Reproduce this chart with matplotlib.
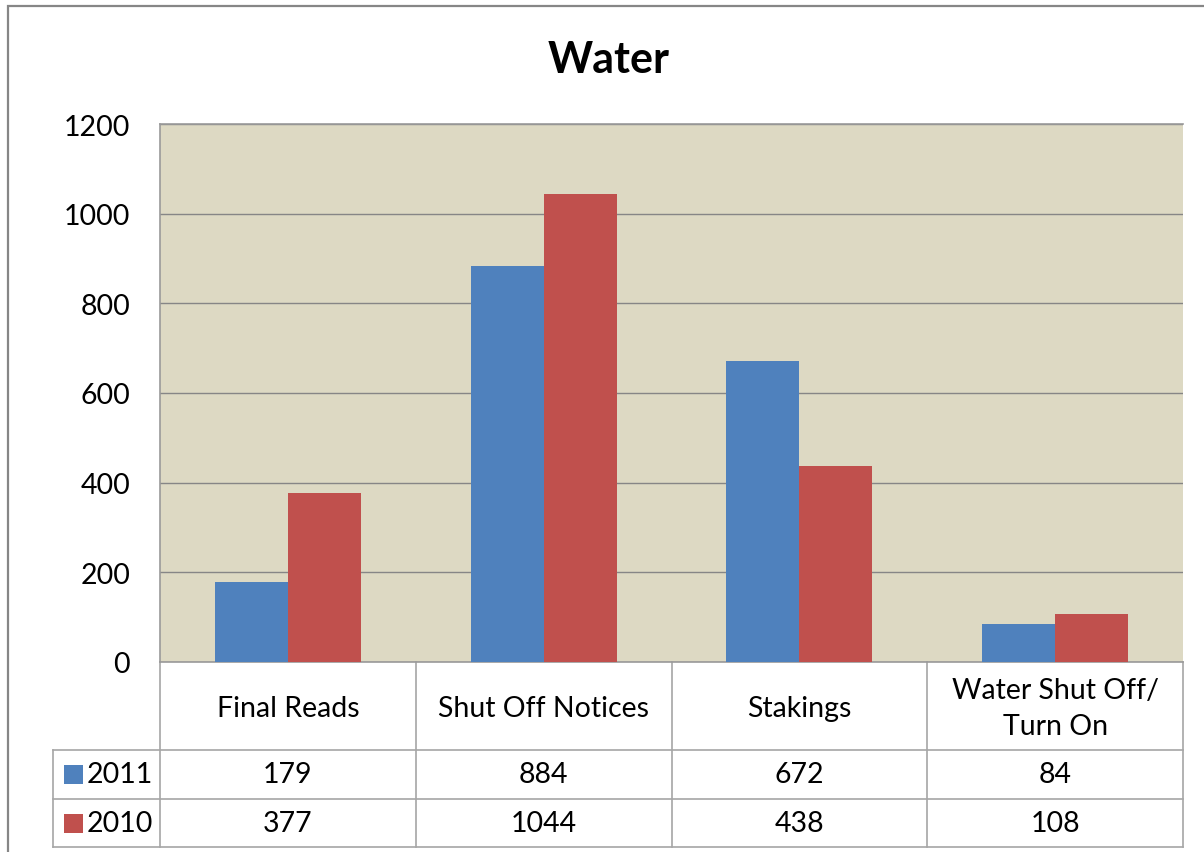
import matplotlib.pyplot as plt
from matplotlib.patches import Rectangle

plt.rcParams['font.family'] = ['Lato', 'DejaVu Sans']

# ---------------------------------------------------
# Data
# ---------------------------------------------------
categories = ["Final Reads", "Shut Off Notices", "Stakings", "Water Shut Off/\nTurn On"]
series_names = ["2011", "2010"]
values_2011 = [179, 884, 672, 84]
values_2010 = [377, 1044, 438, 108]
colors = ["#4F81BD", "#C0504D"]
y_ticks = [0, 200, 400, 600, 800, 1000, 1200]

W, H = 1204, 853
FS = 20.5
fig = plt.figure(figsize=(W / 100, H / 100), dpi=100)

# outer chart border
fig.patches.append(Rectangle((8 / W, -0.01), 1.02, 1 - 7 / H + 0.01, transform=fig.transFigure,
                             fill=False, edgecolor="#868686", linewidth=1.6))

# plot area: x 160..1183, y 125..663 (pixels)
ax = fig.add_axes([160 / W, 1 - 663 / H, 1023 / W, 538 / H])
ax.set_facecolor("#DDD9C3")

x = list(range(len(categories)))
bw = 0.285
ax.bar([i - bw / 2 for i in x], values_2011, width=bw, color=colors[0], zorder=3)
ax.bar([i + bw / 2 for i in x], values_2010, width=bw, color=colors[1], zorder=3)

ax.set_xlim(-0.5, len(categories) - 0.5)
ax.set_ylim(0, 1200)
ax.set_yticks(y_ticks)
ax.set_yticklabels([str(v) for v in y_ticks], fontsize=FS)
ax.tick_params(axis="y", length=0, pad=21.5)
ax.set_xticks([])
ax.yaxis.grid(True, color="#868686", linewidth=1)
ax.set_axisbelow(True)
for side in ["left", "top", "bottom"]:
    ax.spines[side].set_color("#9A9A9A")
    ax.spines[side].set_linewidth(1.2)
ax.spines["right"].set_visible(False)

fig.text(609 / W, 1 - 60 / H, "Water", ha="center", va="center", fontsize=31, fontweight="bold")

# ---------------------------------------------------
# Data table below the plot
# ---------------------------------------------------
tr = ax.get_xaxis_transform()
ph = 538.0
y_head = (663 - 751) / ph
y_r1 = (663 - 800) / ph
y_r2 = (663 - 848) / ph
x_leg = -0.5 + (53 - 160) / (1023 / len(categories))
grid_c = "#A6A6A6"
n = len(categories)

for k in range(n + 1):
    ax.plot([k - 0.5, k - 0.5], [0, y_r2], transform=tr, color=grid_c, lw=1.2, clip_on=False)
ax.plot([x_leg, x_leg], [y_head, y_r2], transform=tr, color=grid_c, lw=1.2, clip_on=False)
for yy in [y_head, y_r1, y_r2]:
    ax.plot([x_leg, n - 0.5], [yy, yy], transform=tr, color=grid_c, lw=1.2, clip_on=False)

for i, cat in enumerate(categories):
    ax.text(i, y_head / 2 - 0.004, cat, transform=tr, ha="center", va="center", fontsize=FS,
            linespacing=1.45)
    ax.text(i, (y_head + y_r1) / 2, str(values_2011[i]), transform=tr, ha="center",
            va="center", fontsize=FS)
    ax.text(i, (y_r1 + y_r2) / 2, str(values_2010[i]), transform=tr, ha="center",
            va="center", fontsize=FS)

rows = [(y_head + y_r1) / 2, (y_r1 + y_r2) / 2]
for name, col, yc in zip(series_names, colors, rows):
    yfig = ax.transAxes.transform((0, yc))[1] / H
    fig.patches.append(Rectangle((64 / W, yfig - 9.5 / H), 19 / W, 19 / H, facecolor=col,
                                 edgecolor="none", transform=fig.transFigure))
    fig.text(87 / W, yfig, name, ha="left", va="center", fontsize=FS)

fig.savefig("out.png", dpi=100, facecolor="white")
